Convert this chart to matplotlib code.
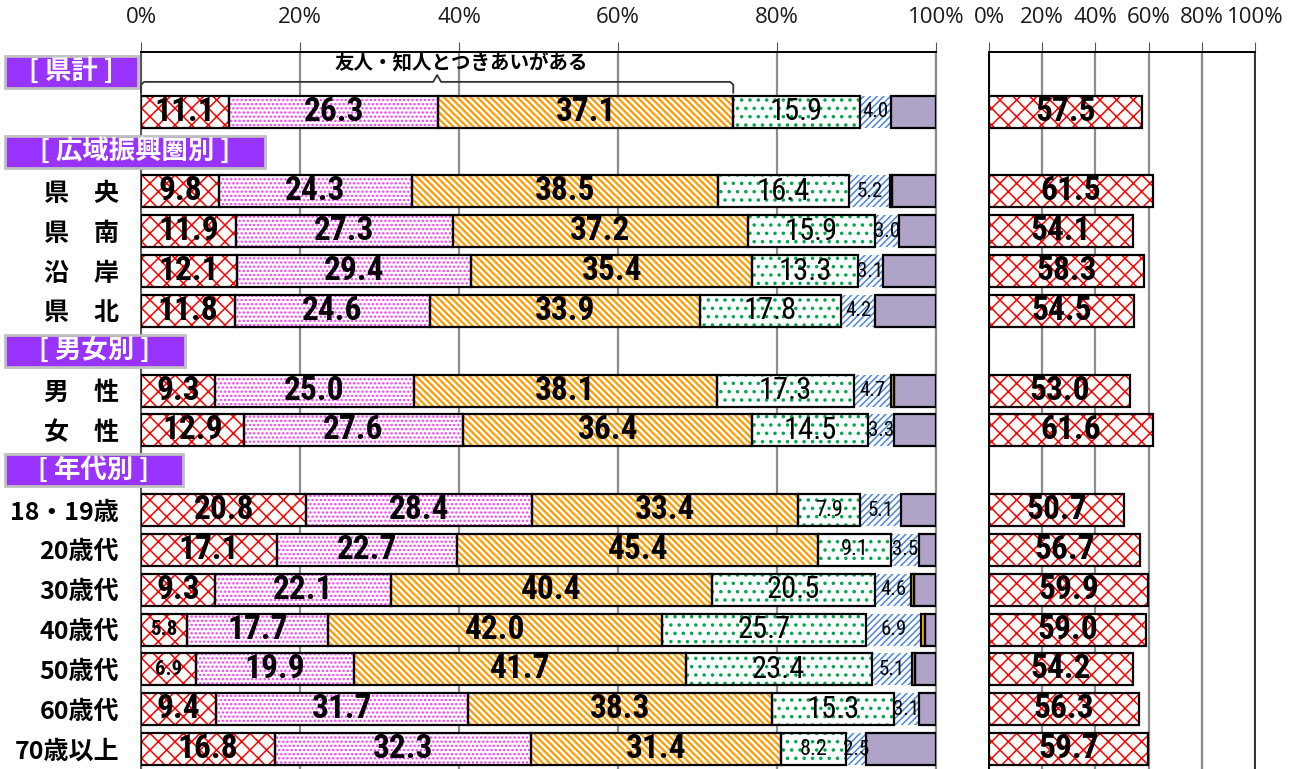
import numpy as np
import matplotlib
matplotlib.use("Agg")
import matplotlib.pyplot as plt
from matplotlib import font_manager as fm, transforms
from matplotlib.patches import Rectangle

# ---- data -------------------------------------------------------------
categories = ["県計", "県　央", "県　南", "沿　岸", "県　北", "男　性", "女　性",
              "18・19歳", "20歳代", "30歳代", "40歳代", "50歳代", "60歳代", "70歳以上"]
group_titles = ["[ 県計 ]", "[ 広域振興圏別 ]", "[ 男女別 ]", "[ 年代別 ]"]

seg_red = [11.1, 9.8, 11.9, 12.1, 11.8, 9.3, 12.9, 20.8, 17.1, 9.3, 5.8, 6.9, 9.4, 16.8]
seg_pink = [26.3, 24.3, 27.3, 29.4, 24.6, 25.0, 27.6, 28.4, 22.7, 22.1, 17.7, 19.9, 31.7, 32.3]
seg_orange = [37.1, 38.5, 37.2, 35.4, 33.9, 38.1, 36.4, 33.4, 45.4, 40.4, 42.0, 41.7, 38.3, 31.4]
seg_green = [15.9, 16.4, 15.9, 13.3, 17.8, 17.3, 14.5, 7.9, 9.1, 20.5, 25.7, 23.4, 15.3, 8.2]
seg_blue = [4.0, 5.2, 3.0, 3.1, 4.2, 4.7, 3.3, 5.1, 3.5, 4.6, 6.9, 5.1, 3.1, 2.5]
seg_yellow = [0.0, 0.3, 0.0, 0.0, 0.0, 0.3, 0.0, 0.0, 0.0, 0.3, 0.5, 0.3, 0.0, 0.0]
seg_purple = [5.6, 5.5, 4.7, 6.7, 7.7, 5.3, 5.3, 4.4, 2.2, 2.8, 1.4, 2.7, 2.2, 8.8]

right_values = [57.5, 61.5, 54.1, 58.3, 54.5, 53.0, 61.6, 50.7, 56.7, 59.9, 59.0, 54.2, 56.3, 59.7]

bracket_label = "友人・知人とつきあいがある"
ticks = [0, 20, 40, 60, 80, 100]

# ---- layout -----------------------------------------------------------
bar_rows = [1, 3, 4, 5, 6, 8, 9, 11, 12, 13, 14, 15, 16, 17]
title_rows = [0, 2, 7, 10]
title_box_px = [133, 260, 180, 178]

JP = ["Noto Sans CJK JP", "DejaVu Sans"]
available = {f.name for f in fm.fontManager.ttflist}
NUM = next(n for n in ["Liberation Sans Narrow", "Roboto Condensed", "Open Sans Condensed",
                       "Liberation Sans", "DejaVu Sans"] if n in available)
TICKF = next(n for n in ["Open Sans", "Liberation Sans", "DejaVu Sans"] if n in available)

W, H = 1297, 769
fig = plt.figure(figsize=(W / 100, H / 100), dpi=100)
fig.patch.set_facecolor("white")


def fx(px):
    return px / W


ax_top = 52
axL = fig.add_axes([fx(141), 0, fx(936 - 141), (H - ax_top) / H])
axR = fig.add_axes([fx(989), 0, fx(1255 - 989), (H - ax_top) / H])

n_rows = 18
for ax in (axL, axR):
    ax.set_xlim(0, 100)
    ax.set_ylim(n_rows - 0.5, -0.5)
    ax.xaxis.tick_top()
    ax.set_xticks(ticks)
    ax.set_xticklabels([f"{t}%" for t in ticks], fontsize=16, family=TICKF, color="#1a1a1a")
    ax.tick_params(axis="x", length=7, width=0.8, color="#555555", pad=10)
    ax.grid(axis="x", color="#8c8c8c", linewidth=1.6, zorder=0)
    ax.set_axisbelow(True)
    ax.spines["bottom"].set_visible(False)
    ax.spines["top"].set_color("black")
    ax.spines["top"].set_linewidth(1.4)

axL.spines["left"].set_color("#555555")
axL.spines["right"].set_color("#8c8c8c")
axL.spines["left"].set_linewidth(1.4)
axL.spines["right"].set_linewidth(1.6)
axR.spines["left"].set_color("black")
axR.spines["right"].set_color("#333333")
axR.spines["left"].set_linewidth(1.4)
axR.spines["right"].set_linewidth(1.4)

# the prefecture-total row sits under its own title box, so it carries no side label
row_labels = [""] + categories[1:]
axL.set_yticks(bar_rows)
axL.set_yticklabels(row_labels, family=JP, fontsize=18, fontweight="bold")
axL.tick_params(axis="y", length=0, pad=16)
axR.set_yticks([])

# segment styles: (face, hatch, hatch colour, hatch width, black edge)
styles = [
    ("white", "xx", "#FF0000", 1.1, True),
    ("white", "....", "#FF33FF", 1.1, True),
    ("white", "\\\\\\\\\\", "#FF9900", 1.6, True),
    ("white", "..", "#00A550", 1.3, True),
    ("white", "/////", "#4F86D9", 1.1, False),
    ("#FFC000", None, None, 1.0, True),
    ("#B0A3C8", None, None, 1.0, True),
]
segments = [seg_red, seg_pink, seg_orange, seg_green, seg_blue, seg_yellow, seg_purple]
BAR_H = 0.8


def hatched_bars(ax, y, w, left, face, hatch, hcolor, hlw, edge):
    y = np.asarray(y, float)
    w = np.asarray(w, float)
    left = np.asarray(left, float)
    keep = w > 0
    if hatch:
        bars = ax.barh(y[keep], w[keep], left=left[keep], height=BAR_H, color=face,
                       edgecolor=hcolor, hatch=hatch, linewidth=0, zorder=2)
        for b in bars:
            if hasattr(b, "set_hatch_linewidth"):
                b.set_hatch_linewidth(hlw)
    else:
        ax.barh(y[keep], w[keep], left=left[keep], height=BAR_H, color=face,
                linewidth=0, zorder=2)
    if edge:
        ax.barh(y[keep], w[keep], left=left[keep], height=BAR_H, fill=False,
                edgecolor="black", linewidth=1.6, zorder=3)


left = np.zeros(len(categories))
for idx, (vals, st) in enumerate(zip(segments, styles)):
    vals = np.asarray(vals, float)
    hatched_bars(axL, bar_rows, vals, left, *st)
    if idx < 5:
        for row, v, l in zip(bar_rows, vals, left):
            if idx < 3:
                fs, fw = (24, "bold") if v >= 8 else (15, "bold")
            elif idx == 3:
                fs, fw = (22, "normal") if v >= 10 else (16, "normal")
            else:
                fs, fw = (15, "normal")
            axL.text(l + v / 2, row, f"{v:.1f}", ha="center", va="center",
                     fontsize=fs, fontweight=fw, family=NUM, color="black", zorder=5)
    left += vals

# right-hand panel
hatched_bars(axR, bar_rows, right_values, np.zeros(len(right_values)), *styles[0])
for row, v in zip(bar_rows, right_values):
    axR.text(v / 2, row, f"{v:.1f}", ha="center", va="center", fontsize=24,
             fontweight="bold", family=NUM, color="black", zorder=5)

# group title boxes
tr = transforms.blended_transform_factory(fig.transFigure, axL.transData)
for title, row, wpx in zip(group_titles, title_rows, title_box_px):
    axL.add_patch(Rectangle((fx(5), row - 0.4), fx(wpx), 0.8, transform=tr,
                            facecolor="#9933FF", edgecolor="#C0C0C0", linewidth=2,
                            clip_on=False, zorder=4))
    axL.text(fx(5 + wpx / 2), row, title, transform=tr, ha="center", va="center",
             color="white", fontsize=19, fontweight="bold", family=JP, zorder=5)

# bracket over the first three segments of the prefecture total
span_end = seg_red[0] + seg_pink[0] + seg_orange[0]
mid = span_end / 2
yb, yl, yp = 0.25, 0.52, 0.08
bx = [0, 0, 0.4, mid - 0.5, mid, mid + 0.5, span_end - 0.4, span_end, span_end]
by = [yl, yb + 0.07, yb, yb, yp, yb, yb, yb + 0.07, yl]
axL.plot(bx, by, color="#333333", linewidth=1.3, zorder=4, clip_on=False,
         solid_joinstyle="round")
axL.text(mid + 3, -0.22, bracket_label, ha="center", va="center", fontsize=14,
         fontweight="bold", family=JP, color="black", zorder=5)

fig.savefig("out.png", dpi=100)
